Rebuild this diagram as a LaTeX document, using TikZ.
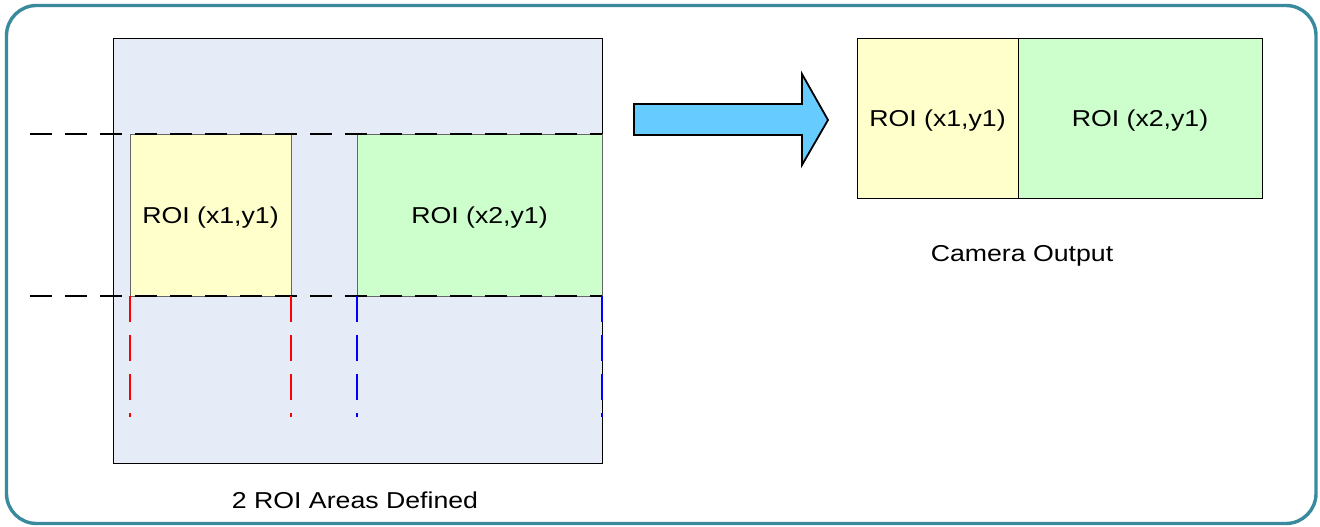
\documentclass[tikz,border=0pt]{standalone}
\usepackage{fontspec}
\setmainfont{Liberation Sans}
\usetikzlibrary{positioning}

\definecolor{framecol}{HTML}{3A8A9E}
\definecolor{sensorcol}{HTML}{E6ECF7}
\definecolor{roiyellow}{HTML}{FFFFCC}
\definecolor{roigreen}{HTML}{CCFFCC}
\definecolor{arrowcol}{HTML}{66CCFF}

\begin{document}
\begin{tikzpicture}[x=1pt,y=1pt,
    box/.style={draw,rectangle,inner sep=0pt,outer sep=0pt,line width=0.8pt},
    roibox/.style={box,draw=black!60},
    txt/.style={font=\fontsize{23}{27}\selectfont,xscale=1.16,transform shape,inner sep=0pt,yshift=-3pt},
    hguide/.style={line width=1.5pt,dash pattern=on 22pt off 13pt},
    vguide/.style={line width=1.5pt,dash pattern=on 26pt off 13pt}]
    \useasboundingbox (0,0) rectangle (1320,-527);
    % outer frame
    \draw [framecol,line width=3.4pt,rounded corners=30pt] (6.5,-5.5) rectangle (1316,-523.5);
    % sensor with the two regions
    \node [box,fill=sensorcol,minimum width=489pt,minimum height=425pt] (sensor) at (357.5,-250.5) {};
    \node [roibox,fill=roiyellow,minimum width=161pt,minimum height=162pt] (roia) at (210.5,-215) {};
    \node [roibox,fill=roigreen,minimum width=245pt,minimum height=162pt] (roib) at (479.5,-215) {};
    \node [txt] (roialabel) at (roia) {ROI (x1,y1)};
    \node [txt] (roiblabel) at (roib) {ROI (x2,y1)};
    \coordinate (gtop) at (30,-134);
    \coordinate (gbot) at (30,-296);
    \draw [hguide] (gtop) -- (sensor.east |- roia.north);
    \draw [hguide] (gbot) -- (sensor.east |- roia.south);
    \draw [vguide,red] (roia.south west) -- ++(0,-121);
    \draw [vguide,red] (roia.south east) -- ++(0,-121);
    \draw [vguide,blue] (roib.south west) -- ++(0,-121);
    \draw [vguide,blue] (roib.south east) -- ++(0,-121);
    \node [txt] (senslabel) at (355,-497) {2 ROI Areas Defined};
    % block arrow
    \draw [line width=1.8pt,fill=arrowcol,line join=miter] (634,-104) -- (802,-104) -- (802,-74)
        -- (828,-120) -- (802,-165) -- (802,-135) -- (634,-135) -- cycle;
    % camera output
    \node [box,fill=roiyellow,minimum width=161pt,minimum height=160pt] (outa) at (937.5,-118) {};
    \node [box,fill=roigreen,minimum width=244pt,minimum height=160pt,right=0pt of outa] (outb) {};
    \node [txt] (outalabel) at (outa) {ROI (x1,y1)};
    \node [txt] (outblabel) at (outb) {ROI (x2,y1)};
    \node [txt] (camlabel) at (1022,-253) {Camera Output};
\end{tikzpicture}
\end{document}
